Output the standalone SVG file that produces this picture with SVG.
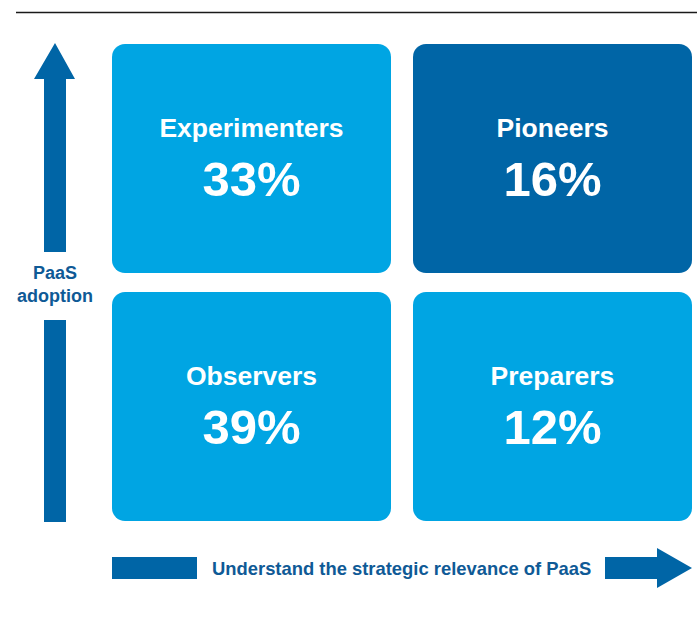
<svg xmlns="http://www.w3.org/2000/svg" width="697" height="620" viewBox="0 0 697 620">
<style>
.light{fill:#00a5e3}
.dark{fill:#0065a6}
.arrow{fill:#0065a6}
.lbl{font-family:"Liberation Sans",Arial,sans-serif;font-weight:bold;fill:#ffffff;text-anchor:middle}
.name{font-size:26.5px}
.pct{font-size:49px}
.axis{font-family:"Liberation Sans",Arial,sans-serif;font-weight:bold;fill:#0f5a96;font-size:18px}
</style>
<rect width="697" height="620" fill="#ffffff"/>
<line x1="16" y1="12.5" x2="697" y2="12.5" stroke="#1a1a1a" stroke-width="1.5"/>
<g id="connectors">
  <polygon class="arrow" points="55,43 75,79 66,79 66,252 44,252 44,79 34,79"/>
  <rect class="arrow" x="44" y="320" width="22" height="202"/>
  <rect class="arrow" x="112" y="557" width="85" height="22"/>
  <polygon class="arrow" points="605,557 657,557 657,548 692,568 657,588 657,579 605,579"/>
</g>
<g id="yaxis-label">
  <text class="axis" x="55" y="279" text-anchor="middle">PaaS</text>
  <text class="axis" x="55" y="302" text-anchor="middle">adoption</text>
</g>
<g id="xaxis-label">
  <text class="axis" x="212" y="575" style="font-size:18.4px">Understand the strategic relevance of PaaS</text>
</g>
<g id="experimenters">
  <rect class="light" x="112" y="44" width="279" height="229" rx="13"/>
  <text class="lbl name" x="251.5" y="137">Experimenters</text>
  <text class="lbl pct" x="251.5" y="196">33%</text>
</g>
<g id="pioneers">
  <rect class="dark" x="413" y="44" width="279" height="229" rx="13"/>
  <text class="lbl name" x="552.5" y="137">Pioneers</text>
  <text class="lbl pct" x="552.5" y="196">16%</text>
</g>
<g id="observers">
  <rect class="light" x="112" y="292" width="279" height="229" rx="13"/>
  <text class="lbl name" x="251.5" y="385">Observers</text>
  <text class="lbl pct" x="251.5" y="444">39%</text>
</g>
<g id="preparers">
  <rect class="light" x="413" y="292" width="279" height="229" rx="13"/>
  <text class="lbl name" x="552.5" y="385">Preparers</text>
  <text class="lbl pct" x="552.5" y="444">12%</text>
</g>
</svg>
